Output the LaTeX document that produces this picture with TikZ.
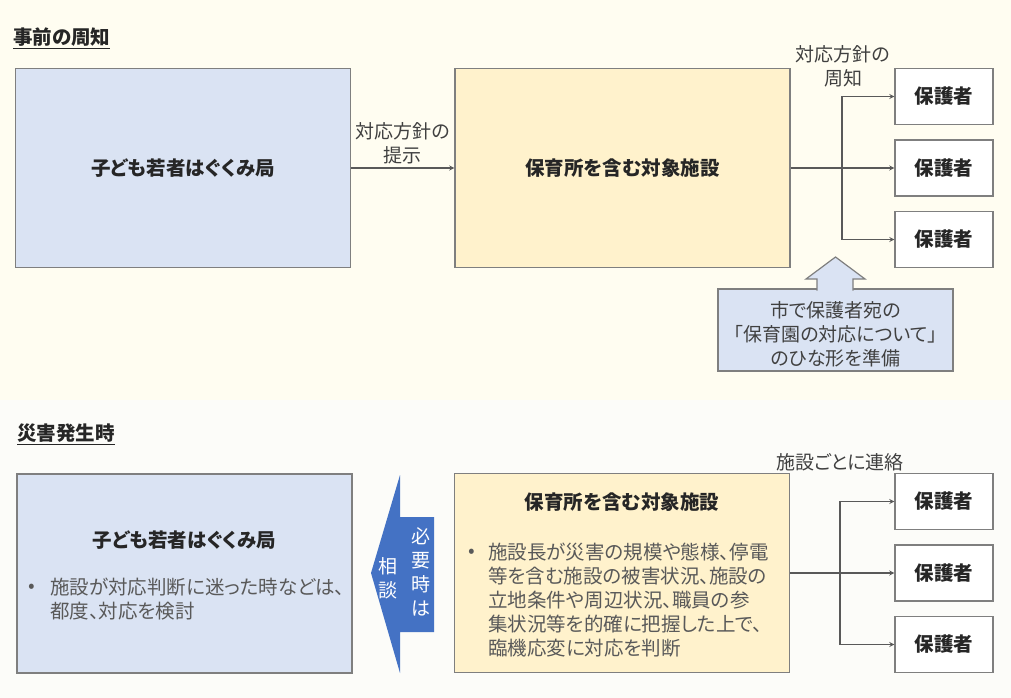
\documentclass[tikz,border=0pt]{standalone}
\usepackage{fontspec}
\setmainfont[RawFeature=+palt]{Noto Sans CJK JP}
\usetikzlibrary{positioning, arrows}
\definecolor{topbg}{HTML}{FFFDF1}
\definecolor{botbg}{HTML}{FCFCF9}
\definecolor{bureaublue}{HTML}{DAE3F3}
\definecolor{facyellow}{HTML}{FFF2CC}
\definecolor{boxline}{HTML}{7F7F7F}
\definecolor{linegray}{HTML}{595959}
\definecolor{consultblue}{HTML}{4472C4}
\definecolor{inkdark}{HTML}{262626}
\definecolor{inkmid}{HTML}{404040}
\definecolor{inkgray}{HTML}{595959}
\tikzset{
  >=stealth,
  node distance=71.5pt,
  every node/.style={text=inkdark},
  office/.style={draw=boxline, line width=1.2pt, minimum width=335pt, minimum height=199pt},
  bureau/.style={office, fill=bureaublue},
  facility/.style={office, fill=facyellow},
  parent/.style={draw=boxline, line width=1.2pt, fill=white, minimum width=98pt, minimum height=56pt,
    font=\bfseries\fontsize{19.5}{24}\selectfont},
  boxtitle/.style={font=\bfseries\fontsize{19.5}{24}\selectfont},
  heading/.style={anchor=west, inner sep=0pt, font=\bfseries\fontsize{19.5}{24}\selectfont},
  note/.style={align=center, text=inkmid, font=\fontsize{19}{24}\selectfont},
  bullet/.style={align=left, anchor=north west, inner sep=0pt, text=inkgray,
    font=\fontsize{19.5}{24}\selectfont},
  bulletdot/.style={inner sep=0pt, text=inkgray, font=\fontsize{19.5}{24}\selectfont},
  vtext/.style={align=center, inner sep=0pt, text=white, font=\fontsize{19}{24}\selectfont},
  flow/.style={->, draw=linegray, line width=1.3pt},
}
\begin{document}
\begin{tikzpicture}[x=1pt, y=-1pt]
  \useasboundingbox (0,0) rectangle (1011,698);
  \fill[topbg] (0,0) rectangle (1011,400);
  \fill[botbg] (0,400) rectangle (1011,698);

  \node[heading]           (head1)   at (13,38)    {\underline{事前の周知}};
  \node[bureau,boxtitle]   (bureau1) at (183,168)  {子ども若者はぐくみ局};
  \node[facility,boxtitle] (fac1)    at (622.5,168) {保育所を含む対象施設};
  \node[parent]            (par1a)   at (944,96.5) {保護者};
  \node[parent,below of=par1a] (par1b) {保護者};
  \node[parent,below of=par1b] (par1c) {保護者};
  \coordinate (fork1) at (842,168);
  \node[note] (notice1) at (843,66) {対応方針の\\周知};

  \draw[flow] (bureau1) -- node[note,above] {対応方針の\\提示} (fac1);
  \draw[flow] (fac1)  -- (par1b);
  \draw[flow] (fork1) |- (par1a);
  \draw[flow] (fork1) |- (par1c);

  \node[draw=boxline, line width=1.2pt, fill=bureaublue, minimum width=235pt, minimum height=82pt]
    (template) at (835.5,330) {};
  \filldraw[draw=boxline, fill=bureaublue, line width=1.2pt, line join=miter]
    (817,290.5) -- (817,279) -- (806,279) -- (835.5,257) -- (865,279) -- (853,279) -- (853,290.5);
  \node[note] (tmpltext) at (835.5,334) {市で保護者宛の\\「保育園の対応について」\\のひな形を準備};

  \node[heading]   (head2)   at (17,434)      {\underline{災害発生時}};
  \node[bureau]    (bureau2) at (184.5,573.5) {};
  \node[boxtitle]  (btitle2) at (184.5,540)   {子ども若者はぐくみ局};
  \node[bulletdot] (bdot2)   at (32,588)      {•};
  \node[bullet]    (bitem2)  at (50,578)      {施設が対応判断に迷った時などは、\\都度、対応を検討};

  \fill[consultblue] (371,573) -- (400,475) -- (400,517) -- (434,517) -- (434,632) -- (400,632) -- (400,673) -- cycle;
  \node[vtext] (ask1) at (421,572) {必\\要\\時\\は};
  \node[vtext] (ask2) at (388,578) {相\\談};

  \node[facility]  (fac2)    at (622,573) {};
  \node[boxtitle]  (ftitle2) at (622,502) {保育所を含む対象施設};
  \node[bulletdot] (fdot2)   at (472,553) {•};
  \node[bullet]    (fitem2)  at (488,543)
    {施設長が災害の規模や態様、停電\\等を含む施設の被害状況、施設の\\立地条件や周辺状況、職員の参\\集状況等を的確に把握した上で、\\臨機応変に対応を判断};

  \node[parent]            (par2a) at (944,501.5) {保護者};
  \node[parent,below of=par2a] (par2b) {保護者};
  \node[parent,below of=par2b] (par2c) {保護者};
  \coordinate (fork2) at (840,573);
  \node[note] (notice2) at (840,462) {施設ごとに連絡};

  \draw[flow] (fac2)  -- (par2b);
  \draw[flow] (fork2) |- (par2a);
  \draw[flow] (fork2) |- (par2c);
\end{tikzpicture}
\end{document}
